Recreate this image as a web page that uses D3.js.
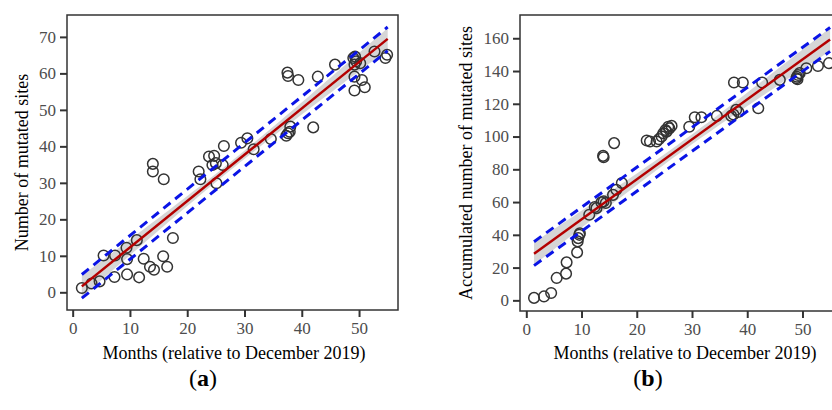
<!DOCTYPE html>
<html>
<head>
<meta charset="utf-8">
<script src="https://cdn.jsdelivr.net/npm/d3@7"></script>
<style>
  body { margin: 0; background: #fff; }
  svg { display: block; }
  svg text { font-family: "Liberation Serif", "Times New Roman", serif; }
</style>
</head>
<body>
<div id="chart"></div>
<script>
// Panel (a): number of mutated sites per sample
const monthsA = [1.6, 3.3, 4.7, 5.4, 7.3, 7.4, 9.4, 9.5, 9.5, 11.2, 11.6, 12.4, 13.5, 14.2, 14.0, 14.0,
  15.9, 15.8, 16.5, 17.5, 22.0, 22.3, 23.8, 24.7, 24.4, 25.0, 25.1, 26.2, 26.4, 29.4, 30.5, 31.6,
  34.6, 37.5, 37.6, 39.4, 37.3, 37.6, 38.0, 37.9, 42.0, 42.8, 45.8, 49.0, 49.3, 49.5, 49.2, 49.2,
  49.2, 50.5, 51.0, 50.2, 52.7, 54.6, 54.9];
const sitesA = [1.2, 2.4, 3.0, 10.1, 4.2, 10.1, 12.2, 9.1, 4.9, 14.3, 4.1, 9.2, 7.0, 6.2, 35.2, 33.1,
  31.0, 9.9, 7.0, 14.9, 33.1, 31.0, 37.2, 37.4, 34.9, 35.4, 29.9, 34.9, 40.1, 41.0, 42.2, 39.2,
  42.0, 60.2, 59.3, 58.2, 42.9, 43.6, 45.4, 44.0, 45.2, 59.1, 62.4, 64.2, 64.6, 63.3, 62.4, 59.1,
  55.3, 58.2, 56.2, 62.8, 66.0, 64.2, 65.1];

// Panel (b): accumulated number of mutated sites
const monthsB = [1.4, 3.2, 4.5, 5.5, 7.2, 7.3, 9.2, 9.3, 9.4, 9.6, 9.7, 11.4, 12.4, 12.7, 13.6, 14.0,
  14.4, 15.7, 16.3, 17.3, 13.9, 14.0, 15.9, 21.8, 22.4, 23.6, 24.0, 24.5, 24.8, 25.2, 25.4, 25.7,
  25.9, 26.3, 29.5, 30.5, 31.7, 34.5, 37.1, 37.5, 38.0, 38.4, 37.6, 39.2, 42.0, 42.7, 45.9, 48.9,
  49.0, 49.1, 49.2, 49.5, 50.7, 52.8, 54.8];
const sitesB = [1.5, 2.4, 4.5, 13.7, 16.3, 23.2, 29.3, 36, 38, 40, 41, 52.3, 57, 56.3, 59.8, 60.4,
  59.4, 64.4, 67.5, 71.6, 88.2, 87.4, 96.0, 97.6, 97, 97, 98.4, 100, 102, 104, 103, 106,
  105, 106.5, 106, 111.8, 111.8, 112.6, 112.6, 113.5, 116.3, 115, 133, 133, 117.3, 133, 134.6, 135.6,
  136.5, 135, 137.6, 138.7, 141.7, 143.1, 144.8];

// fitted lines: intercept, slope, x range, band half widths
const fitA = { intercept: -0.4, slope: 1.27, x0: 1.6, x1: 55.0, seMid: 1.1, seSlope: 0.103, xMean: 28, dashOffset: 3.25 };
const fitB = { intercept: 25.1, slope: 2.44, x0: 1.4, x1: 55.0, seMid: 3.0, seSlope: 0.234, xMean: 28, dashOffset: 7.3 };

const ticksX = [0, 10, 20, 30, 40, 50];
const ticksYA = [0, 10, 20, 30, 40, 50, 60, 70];
const ticksYB = [0, 20, 40, 60, 80, 100, 120, 140, 160];

const width = 832;
const height = 410;
const serif = "'Liberation Serif', 'Times New Roman', serif";

const svg = d3.select("#chart")
  .append("svg")
  .attr("width", width)
  .attr("height", height);

function drawPanel(opts) {
  const { left, right, top, bottom, xDomain, yDomain, months, sites, fit, ticksY, yTitle, yTitleX, xTitleX, tag, tagX } = opts;

  const x = d3.scaleLinear().domain(xDomain).range([left, right]);
  const y = d3.scaleLinear().domain(yDomain).range([bottom, top]);

  const clipId = "clip-" + tag;
  svg.append("clipPath").attr("id", clipId)
    .append("rect")
    .attr("x", left).attr("y", top)
    .attr("width", right - left).attr("height", bottom - top);

  const g = svg.append("g").attr("clip-path", `url(#${clipId})`);

  // confidence band around the fit
  const xs = d3.range(0, 61).map(i => fit.x0 + (fit.x1 - fit.x0) * i / 60);
  const half = v => Math.sqrt(fit.seMid ** 2 + (fit.seSlope * (v - fit.xMean)) ** 2);
  const pred = v => fit.intercept + fit.slope * v;

  g.append("path")
    .datum(xs)
    .attr("d", d3.area()
      .x(v => x(v))
      .y0(v => y(pred(v) - half(v)))
      .y1(v => y(pred(v) + half(v))))
    .attr("fill", "#cfcfcf")
    .attr("opacity", 0.85);

  // points
  g.selectAll("circle")
    .data(d3.zip(months, sites))
    .enter()
    .append("circle")
    .attr("cx", d => x(d[0]))
    .attr("cy", d => y(d[1]))
    .attr("r", 5.3)
    .attr("fill", "none")
    .attr("stroke", "#333")
    .attr("stroke-width", 1.5);

  const line = d3.line().x(d => x(d[0])).y(d => y(d[1]));

  // fitted line
  g.append("path")
    .datum([[fit.x0, pred(fit.x0)], [fit.x1, pred(fit.x1)]])
    .attr("d", line)
    .attr("stroke", "#b40000")
    .attr("stroke-width", 2.5)
    .attr("fill", "none");

  // dashed bounds
  [-1, 1].forEach(s => {
    g.append("path")
      .datum([[fit.x0, pred(fit.x0) + s * fit.dashOffset], [fit.x1, pred(fit.x1) + s * fit.dashOffset]])
      .attr("d", line)
      .attr("stroke", "#0a14e6")
      .attr("stroke-width", 3)
      .attr("stroke-dasharray", "9,6")
      .attr("fill", "none");
  });

  // frame
  svg.append("rect")
    .attr("x", left).attr("y", top)
    .attr("width", right - left).attr("height", bottom - top)
    .attr("fill", "none")
    .attr("stroke", "#333")
    .attr("stroke-width", 1.5);

  // axes
  const xAxis = svg.append("g")
    .attr("transform", `translate(0,${bottom})`)
    .call(d3.axisBottom(x).tickValues(ticksX).tickSize(7).tickPadding(5));
  const yAxis = svg.append("g")
    .attr("transform", `translate(${left},0)`)
    .call(d3.axisLeft(y).tickValues(ticksY).tickSize(7).tickPadding(4));

  [xAxis, yAxis].forEach(a => {
    a.attr("font-family", serif);
    a.select(".domain").remove();
    a.selectAll(".tick line").attr("stroke", "#333").attr("stroke-width", 2);
    a.selectAll(".tick text")
      .attr("fill", "#4d4d4d")
      .attr("font-family", serif)
      .style("font-size", "17px");
  });

  // axis titles
  svg.append("text")
    .attr("x", xTitleX)
    .attr("y", 359)
    .attr("text-anchor", "middle")
    .attr("font-family", serif)
    .style("font-size", "18px")
    .text("Months (relative to December 2019)");

  svg.append("text")
    .attr("transform", `translate(${yTitleX},${(top + bottom) / 2}) rotate(-90)`)
    .attr("text-anchor", "middle")
    .attr("font-family", serif)
    .style("font-size", "18px")
    .text(yTitle);

  // panel tag
  svg.append("text")
    .attr("x", tagX)
    .attr("y", 386)
    .attr("text-anchor", "middle")
    .attr("font-family", serif)
    .style("font-size", "24px")
    .html(`(<tspan font-weight="bold">${tag}</tspan>)`);
}

drawPanel({
  left: 67, right: 398, top: 15, bottom: 310,
  xDomain: [-0.99, 56.8], yDomain: [-4.85, 76.0],
  months: monthsA, sites: sitesA, fit: fitA, ticksY: ticksYA,
  yTitle: "Number of mutated sites", yTitleX: 28, xTitleX: 234, tag: "a", tagX: 203
});

drawPanel({
  left: 520, right: 845, top: 15, bottom: 311,
  xDomain: [-1.14, 57.7], yDomain: [-6.5, 174.2],
  months: monthsB, sites: sitesB, fit: fitB, ticksY: ticksYB,
  yTitle: "Accumulated number of mutated sites", yTitleX: 472, xTitleX: 685, tag: "b", tagX: 648
});
</script>
</body>
</html>
